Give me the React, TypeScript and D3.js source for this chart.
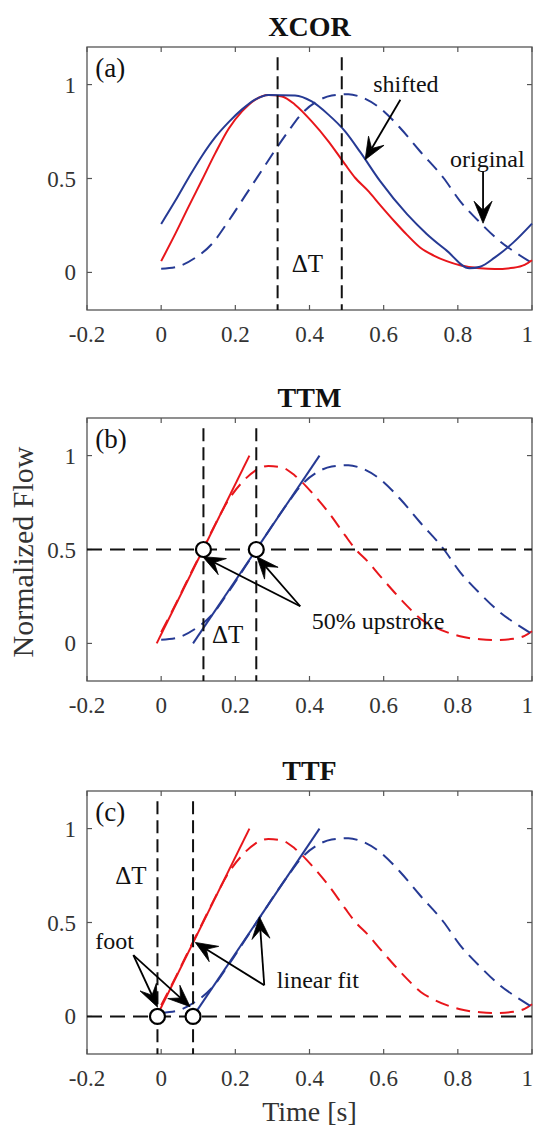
import React from 'react';
import * as d3 from 'd3';

// ---------- data ----------
const xTicks = [-0.2, 0, 0.2, 0.4, 0.6, 0.8, 1];
const xTickLabels = ['-0.2', '0', '0.2', '0.4', '0.6', '0.8', '1'];
const yTicks = [0, 0.5, 1];
const yTickLabels = ['0', '0.5', '1'];

const panelTitles = ['XCOR', 'TTM', 'TTF'];
const panelLetters = ['(a)', '(b)', '(c)'];

// proximal (red) waveform: [time s, normalized flow]
const redWave: [number, number][] = [
  [0, 0.06], [0.038, 0.205], [0.074, 0.35], [0.11, 0.492], [0.146, 0.635],
  [0.182, 0.765], [0.218, 0.857], [0.253, 0.919], [0.289, 0.945], [0.326, 0.937],
  [0.361, 0.893], [0.406, 0.804], [0.451, 0.698], [0.496, 0.575], [0.523, 0.504],
  [0.56, 0.43], [0.59, 0.36], [0.63, 0.27], [0.663, 0.2], [0.7, 0.13],
  [0.735, 0.09], [0.77, 0.06], [0.806, 0.038], [0.86, 0.022], [0.9, 0.018],
  [0.95, 0.025], [0.98, 0.04], [1.0, 0.065],
];

// distal (blue) original waveform
const blueOriginal: [number, number][] = [
  [0, 0.02], [0.038, 0.028], [0.092, 0.078], [0.137, 0.152], [0.182, 0.275],
  [0.227, 0.41], [0.272, 0.545], [0.307, 0.65], [0.343, 0.752], [0.379, 0.845],
  [0.424, 0.915], [0.46, 0.942], [0.505, 0.949], [0.537, 0.935], [0.59, 0.875],
  [0.644, 0.77], [0.698, 0.645], [0.761, 0.504], [0.806, 0.38], [0.86, 0.265],
  [0.914, 0.165], [0.96, 0.1], [1.0, 0.05],
];

// distal (blue) waveform shifted by cross-correlation
const blueShifted: [number, number][] = [
  [0, 0.258], [0.038, 0.381], [0.074, 0.504], [0.11, 0.62], [0.146, 0.72],
  [0.182, 0.8], [0.218, 0.868], [0.253, 0.92], [0.289, 0.945], [0.361, 0.942],
  [0.406, 0.91], [0.451, 0.84], [0.496, 0.751], [0.537, 0.64], [0.59, 0.487],
  [0.663, 0.31], [0.716, 0.205], [0.77, 0.116], [0.831, 0.022], [0.86, 0.03],
  [0.9, 0.08], [0.95, 0.16], [1.0, 0.26],
];

// linear fits of the upstrokes
const redFit: [number, number][] = [[-0.012, 0], [0.238, 1]];
const blueFit: [number, number][] = [[0.086, 0], [0.427, 1]];

// time markers
const xcorMarks = [0.314, 0.487];
const ttmMarks = [0.114, 0.2565];
const ttfMarks = [-0.01, 0.086];
const ttmLevel = 0.5;
const ttfLevel = 0;

// ---------- layout ----------
const W = 534;
const H = 1130;
const boxLeft = 87;
const boxRight = 532;
const panelTops = [47, 418, 791];
const panelH = 263;

const RED = '#e8161b';
const BLUE = '#263a94';
const FONT = '"Liberation Serif", "Times New Roman", serif';

type Pt = [number, number];

function Arrow({ from, to }: { from: Pt; to: Pt }) {
  const [x1, y1] = from;
  const [x2, y2] = to;
  const dx = x2 - x1;
  const dy = y2 - y1;
  const len = Math.hypot(dx, dy);
  const ux = dx / len;
  const uy = dy / len;
  const px = -uy;
  const py = ux;
  const L = 22;
  const hw = 9;
  const notch = 13;
  const bx = x2 - ux * L;
  const by = y2 - uy * L;
  const nx = x2 - ux * notch;
  const ny = y2 - uy * notch;
  const head = `M${x2},${y2} L${bx + px * hw},${by + py * hw} L${nx},${ny} L${bx - px * hw},${by - py * hw} Z`;
  return (
    <g>
      <line x1={x1} y1={y1} x2={nx} y2={ny} stroke="#000" strokeWidth={1.8} />
      <path d={head} fill="#000" stroke="#000" strokeWidth={0.8} strokeLinejoin="miter" />
    </g>
  );
}

function Panel({ idx }: { idx: number }) {
  const top = panelTops[idx];
  const x = d3.scaleLinear().domain([-0.2, 1]).range([boxLeft, boxRight]);
  const y = d3.scaleLinear().domain([-0.2, 1.2]).range([top + panelH, top]);
  const line = d3
    .line<Pt>()
    .x((d) => x(d[0]))
    .y((d) => y(d[1]))
    .curve(d3.curveMonotoneX);
  const straight = d3
    .line<Pt>()
    .x((d) => x(d[0]))
    .y((d) => y(d[1]));
  const bottom = top + panelH;
  const axisColor = '#555';
  const tickLen = 5;

  const vLine = (t: number, key: string) => (
    <line
      key={key}
      x1={x(t)}
      x2={x(t)}
      y1={y(1.145)}
      y2={bottom}
      stroke="#111"
      strokeWidth={2}
      strokeDasharray="13,6"
    />
  );
  const hLine = (v: number) => (
    <line
      x1={boxLeft}
      x2={boxRight}
      y1={y(v)}
      y2={y(v)}
      stroke="#111"
      strokeWidth={2}
      strokeDasharray="15,8"
    />
  );
  const circle = (t: number, v: number, key: string) => (
    <circle key={key} cx={x(t)} cy={y(v)} r={7.5} fill="#fff" stroke="#000" strokeWidth={2.2} />
  );
  const text = (s: string, t: number, v: number, size = 24, anchor = 'start') => (
    <text x={x(t)} y={y(v)} fontSize={size} fontFamily={FONT} fill="#111" textAnchor={anchor}>
      {s}
    </text>
  );

  return (
    <g>
      {/* title */}
      <text
        x={(boxLeft + boxRight) / 2}
        y={top - 11}
        fontSize={28}
        fontWeight="bold"
        fontFamily={FONT}
        textAnchor="middle"
        fill="#111"
      >
        {panelTitles[idx]}
      </text>

      {/* axes box + ticks */}
      <rect
        x={boxLeft}
        y={top}
        width={boxRight - boxLeft}
        height={panelH}
        fill="#fff"
        stroke={axisColor}
        strokeWidth={1.3}
      />
      {xTicks.map((t, i) => {
        const last = i === xTicks.length - 1;
        return (
          <g key={'xt' + i}>
            <line x1={x(t)} x2={x(t)} y1={bottom} y2={bottom - tickLen} stroke={axisColor} strokeWidth={1.2} />
            <line x1={x(t)} x2={x(t)} y1={top} y2={top + tickLen} stroke={axisColor} strokeWidth={1.2} />
            <text
              x={last ? W - 1 : x(t)}
              y={bottom + 32}
              fontSize={23}
              fontFamily={FONT}
              textAnchor={last ? 'end' : 'middle'}
              fill="#333"
            >
              {xTickLabels[i]}
            </text>
          </g>
        );
      })}
      {yTicks.map((v, i) => (
        <g key={'yt' + i}>
          <line x1={boxLeft} x2={boxLeft + tickLen} y1={y(v)} y2={y(v)} stroke={axisColor} strokeWidth={1.2} />
          <line x1={boxRight} x2={boxRight - tickLen} y1={y(v)} y2={y(v)} stroke={axisColor} strokeWidth={1.2} />
          <text
            x={boxLeft - 11}
            y={y(v) + 8}
            fontSize={23}
            fontFamily={FONT}
            textAnchor="end"
            fill="#333"
          >
            {yTickLabels[i]}
          </text>
        </g>
      ))}

      {idx === 0 && (
        <g>
          <path d={line(blueOriginal) || ''} fill="none" stroke={BLUE} strokeWidth={2} strokeDasharray="14,8" />
          <path d={line(redWave) || ''} fill="none" stroke={RED} strokeWidth={2} />
          <path d={line(blueShifted) || ''} fill="none" stroke={BLUE} strokeWidth={2} />
          {xcorMarks.map((t, i) => vLine(t, 'm' + i))}
          <Arrow from={[x(0.645), y(0.919)]} to={[x(0.55), y(0.6)]} />
          <Arrow from={[x(0.868), y(0.54)]} to={[x(0.868), y(0.262)]} />
          {text('shifted', 0.572, 0.959)}
          {text('original', 0.779, 0.562)}
          {text('\u0394T', 0.352, 0.0, 25)}
        </g>
      )}

      {idx === 1 && (
        <g>
          <path d={line(redWave) || ''} fill="none" stroke={RED} strokeWidth={2} strokeDasharray="14,8" />
          <path d={line(blueOriginal) || ''} fill="none" stroke={BLUE} strokeWidth={2} strokeDasharray="14,8" />
          <path d={straight(redFit) || ''} fill="none" stroke={RED} strokeWidth={2} />
          <path d={straight(blueFit) || ''} fill="none" stroke={BLUE} strokeWidth={2} />
          {hLine(ttmLevel)}
          {ttmMarks.map((t, i) => vLine(t, 'm' + i))}
          {ttmMarks.map((t, i) => circle(t, ttmLevel, 'c' + i))}
          <Arrow from={[x(0.375), y(0.198)]} to={[x(0.112), y(0.462)]} />
          <Arrow from={[x(0.375), y(0.198)]} to={[x(0.258), y(0.462)]} />
          {text('50% upstroke', 0.406, 0.078)}
          {text('\u0394T', 0.137, 0.0, 25)}
        </g>
      )}

      {idx === 2 && (
        <g>
          <path d={line(redWave) || ''} fill="none" stroke={RED} strokeWidth={2} strokeDasharray="14,8" />
          <path d={line(blueOriginal) || ''} fill="none" stroke={BLUE} strokeWidth={2} strokeDasharray="14,8" />
          <path d={straight(redFit) || ''} fill="none" stroke={RED} strokeWidth={2} />
          <path d={straight(blueFit) || ''} fill="none" stroke={BLUE} strokeWidth={2} />
          {hLine(ttfLevel)}
          {ttfMarks.map((t, i) => vLine(t, 'm' + i))}
          {ttfMarks.map((t, i) => circle(t, ttfLevel, 'c' + i))}
          <Arrow from={[x(-0.075), y(0.326)]} to={[x(-0.01), y(0.05)]} />
          <Arrow from={[x(-0.075), y(0.326)]} to={[x(0.078), y(0.052)]} />
          <Arrow from={[x(0.278), y(0.166)]} to={[x(0.092), y(0.394)]} />
          <Arrow from={[x(0.278), y(0.166)]} to={[x(0.265), y(0.53)]} />
          {text('foot', -0.178, 0.358)}
          {text('linear fit', 0.312, 0.153)}
          {text('\u0394T', -0.124, 0.704, 25)}
        </g>
      )}

      {/* panel letter */}
      <text x={x(-0.178)} y={y(1.038)} fontSize={27} fontFamily={FONT} fill="#111">
        {panelLetters[idx]}
      </text>
    </g>
  );
}

export default function App() {
  return (
    <svg
      width={W}
      height={H}
      style={{ position: 'absolute', left: 0, top: 0, background: '#fff' }}
      xmlns="http://www.w3.org/2000/svg"
    >
      <rect x={0} y={0} width={W} height={H} fill="#fff" />
      {[0, 1, 2].map((i) => (
        <Panel key={i} idx={i} />
      ))}
      <text
        transform={`translate(33, 552) rotate(-90)`}
        fontSize={30}
        fontFamily={FONT}
        textAnchor="middle"
        fill="#333"
      >
        Normalized Flow
      </text>
      <text
        x={(boxLeft + boxRight) / 2}
        y={1121}
        fontSize={28}
        fontFamily={FONT}
        textAnchor="middle"
        fill="#333"
      >
        Time [s]
      </text>
    </svg>
  );
}
